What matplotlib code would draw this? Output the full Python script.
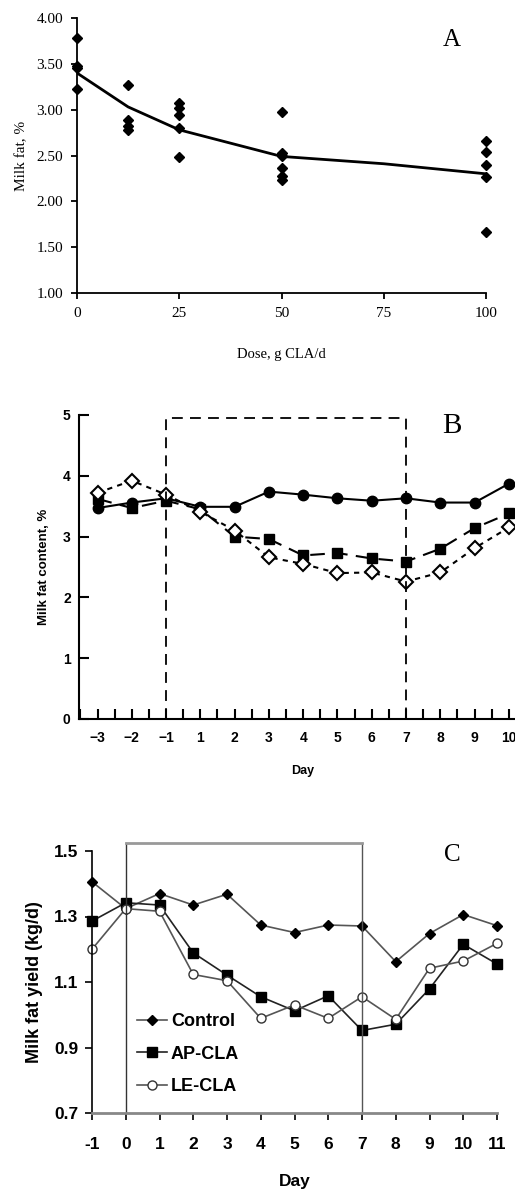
import matplotlib
matplotlib.use("Agg")
import matplotlib.pyplot as plt
from matplotlib.ticker import MultipleLocator, FixedLocator

# ---- panel A: dose response ----
a_dose = [0, 0, 0, 0,
          12.5, 12.5, 12.5, 12.5,
          25, 25, 25, 25, 25,
          50, 50, 50, 50, 50, 50,
          100, 100, 100, 100, 100]
a_fat = [3.78, 3.48, 3.45, 3.23,
         3.27, 2.89, 2.82, 2.78,
         3.07, 3.02, 2.94, 2.80, 2.48,
         2.97, 2.53, 2.50, 2.36, 2.28, 2.23,
         2.66, 2.54, 2.40, 2.27, 1.67]
a_fit_dose = [0, 12.5, 25, 50, 75, 100]
a_fit_fat = [3.40, 3.03, 2.78, 2.49, 2.41, 2.30]

# ---- panel B: milk fat content ----
b_days = ["\u22123", "\u22122", "\u22121", "1", "2", "3", "4", "5", "6", "7", "8", "9", "10"]
b_control = [3.47, 3.56, 3.63, 3.49, 3.49, 3.74, 3.69, 3.63, 3.59, 3.63, 3.56, 3.56, 3.87]
b_square = [3.62, 3.47, 3.59, 3.45, 3.00, 2.96, 2.69, 2.73, 2.64, 2.59, 2.80, 3.14, 3.38]
b_diamond = [3.72, 3.92, 3.69, 3.41, 3.10, 2.66, 2.55, 2.40, 2.41, 2.26, 2.41, 2.81, 3.15]

# ---- panel C: milk fat yield ----
c_days = [-1, 0, 1, 2, 3, 4, 5, 6, 7, 8, 9, 10, 11]
c_control = [1.406, 1.324, 1.370, 1.335, 1.368, 1.274, 1.251, 1.274, 1.271, 1.162, 1.248, 1.306, 1.272]
c_ap = [1.286, 1.342, 1.335, 1.189, 1.121, 1.055, 1.012, 1.058, 0.952, 0.971, 1.079, 1.215, 1.155]
c_le = [1.200, 1.324, 1.316, 1.123, 1.104, 0.989, 1.030, 0.989, 1.055, 0.986, 1.142, 1.164, 1.218]

plt.rcParams["axes.unicode_minus"] = False

W, H = 515, 1197
fig = plt.figure(figsize=(W / 100, H / 100), dpi=100)


def box(left, top, right, bottom):
    return [left / W, 1 - bottom / H, (right - left) / W, (bottom - top) / H]


serif = "Liberation Serif"
sans = "Liberation Sans"

# ---------------- A ----------------
ax = fig.add_axes(box(77, 18, 486, 293))
ax.plot(a_dose, a_fat, linestyle="none", marker="D", markersize=5.5, color="black",
        clip_on=False)
ax.plot(a_fit_dose, a_fit_fat, color="black", linewidth=2)
ax.set_xlim(0, 100)
ax.set_ylim(1, 4)
ax.xaxis.set_major_locator(MultipleLocator(25))
ax.yaxis.set_major_locator(MultipleLocator(0.5))
ax.yaxis.set_major_formatter(lambda v, p: "%.2f" % v)
for s in ("top", "right"):
    ax.spines[s].set_visible(False)
for s in ("left", "bottom"):
    ax.spines[s].set_linewidth(1.3)
ax.tick_params(direction="out", length=4, width=1.3, pad=6)
for lab in ax.get_xticklabels() + ax.get_yticklabels():
    lab.set_fontfamily(serif)
    lab.set_fontsize(11)
ax.set_xlabel("Dose, g CLA/d", family=serif, fontsize=10.5, labelpad=20)
ax.set_ylabel("Milk fat, %", family=serif, fontsize=11, labelpad=6)
fig.text(452 / W, 1 - 40 / H, "A", family=serif, fontsize=18, ha="center", va="center")

# ---------------- B ----------------
ax = fig.add_axes(box(79, 415, 526, 719))
xb = list(range(len(b_days)))
ax.plot(xb, b_control, color="black", linewidth=1.5, marker="o", markersize=7.5)
ax.plot(xb, b_square, color="black", linewidth=1.5, dashes=(7, 4), marker="s", markersize=7)
ax.plot(xb, b_diamond, color="black", linewidth=1.5, dashes=(2.5, 2.5), marker="D",
        markersize=7, markerfacecolor="white", markeredgewidth=1.5)
ax.plot([2, 2, 9, 9], [0, 4.95, 4.95, 0], color="black", linewidth=1.3, dashes=(6, 4))
ax.set_xlim(-0.54, 12.5)
ax.set_ylim(0, 5)
ax.xaxis.set_major_locator(FixedLocator(xb))
ax.xaxis.set_minor_locator(FixedLocator([i + 0.5 for i in range(-1, 13)]))
ax.set_xticklabels(b_days)
ax.yaxis.set_major_locator(MultipleLocator(1))
for s in ("top", "right"):
    ax.spines[s].set_visible(False)
for s in ("left", "bottom"):
    ax.spines[s].set_linewidth(1.5)
ax.tick_params(which="both", direction="in", length=7, width=1.5)
ax.tick_params(axis="x", pad=9)
ax.tick_params(axis="y", pad=6)
for lab in ax.get_xticklabels() + ax.get_yticklabels():
    lab.set_fontfamily(sans)
    lab.set_fontweight("bold")
    lab.set_fontsize(10)
ax.set_xlabel("Day", family=sans, fontweight="bold", fontsize=9, labelpad=14)
ax.set_ylabel("Milk fat content, %", family=sans, fontweight="bold", fontsize=9.5, labelpad=9)
fig.text(452 / W, 1 - 426 / H, "B", family=serif, fontsize=21, ha="center", va="center")

# ---------------- C ----------------
ax = fig.add_axes(box(92, 851, 497, 1113))
ax.plot(c_days, c_control, color="#555555", linewidth=1.2, marker="D", markersize=5.5,
        markerfacecolor="black", markeredgecolor="black", label="Control", clip_on=False)
ax.plot(c_days, c_ap, color="#222222", linewidth=1.2, marker="s", markersize=6.5,
        markerfacecolor="black", markeredgecolor="black", label="AP-CLA", clip_on=False)
ax.plot(c_days, c_le, color="#555555", linewidth=1.2, marker="o", markersize=6.5,
        markerfacecolor="white", markeredgecolor="#333333", label="LE-CLA", clip_on=False)
ax.plot([0, 0], [0.7, 1.524], color="#333333", linewidth=1, clip_on=False)
ax.plot([7, 7], [0.7, 1.524], color="#555555", linewidth=1, clip_on=False)
ax.plot([0, 7], [1.524, 1.524], color="#999999", linewidth=2, clip_on=False)
ax.set_xlim(-1, 11)
ax.set_ylim(0.7, 1.5)
ax.xaxis.set_major_locator(MultipleLocator(1))
ax.yaxis.set_major_locator(FixedLocator([0.7, 0.9, 1.1, 1.3, 1.5]))
ax.yaxis.set_major_formatter(lambda v, p: "%.1f" % v)
for s in ("top", "right"):
    ax.spines[s].set_visible(False)
ax.spines["left"].set_linewidth(1.2)
ax.spines["bottom"].set_linewidth(2)
ax.spines["bottom"].set_color("#888888")
ax.tick_params(direction="out", length=5, width=1.2)
ax.tick_params(axis="x", pad=12)
ax.tick_params(axis="y", pad=5)
for lab in ax.get_xticklabels() + ax.get_yticklabels():
    lab.set_fontfamily(sans)
    lab.set_fontweight("bold")
    lab.set_fontsize(12.5)
ax.set_xlabel("Day", family=sans, fontweight="bold", fontsize=12.5, labelpad=16)
ax.set_ylabel("Milk fat yield (kg/d)", family=sans, fontweight="bold", fontsize=13, labelpad=8)
ax.legend(loc="center left", bbox_to_anchor=(0.07, 0.225), frameon=False,
          prop={"family": sans, "weight": "bold", "size": 13},
          handlelength=1.7, handletextpad=0.2, labelspacing=0.85)
fig.text(452 / W, 1 - 855 / H, "C", family=serif, fontsize=18, ha="center", va="center")

fig.savefig("out.png", dpi=100)
